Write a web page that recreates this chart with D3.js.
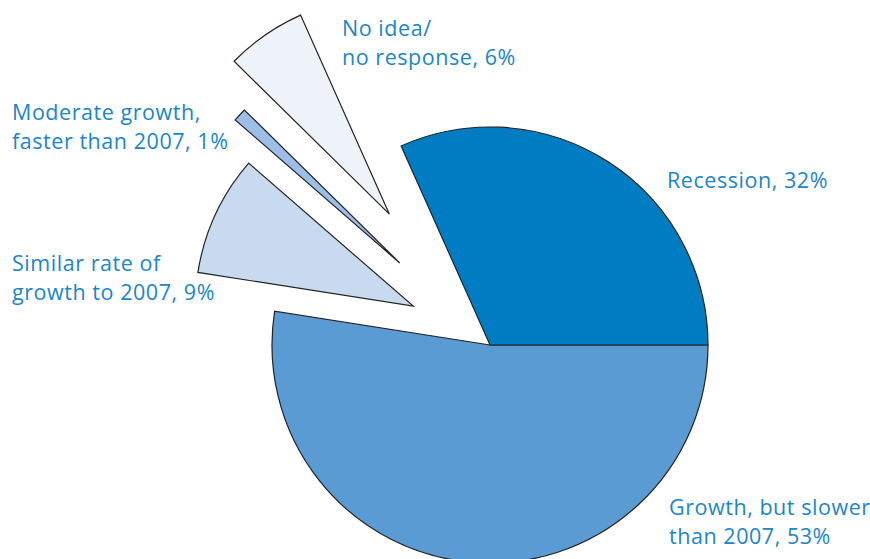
<!DOCTYPE html>
<html>
<head>
<meta charset="utf-8">
<script src="https://cdn.jsdelivr.net/npm/d3@7/dist/d3.min.js"></script>
<style>
  html, body { margin: 0; padding: 0; background: #ffffff; }
  svg { display: block; }
  text { font-family: "Open Sans", "Noto Sans", sans-serif; fill: #1b86c8; }
</style>
</head>
<body>
<svg id="chart" width="870" height="559"></svg>
<script>
// Survey answers: expectations for economic growth
const categories = [
  "Growth, but slower than 2007",
  "Similar rate of growth to 2007",
  "Moderate growth, faster than 2007",
  "No idea/no response",
  "Recession"
];
const shares = [53, 9, 1, 6, 32];
const labelLines = [
  ["Growth, but slower", "than 2007, 53%"],
  ["Similar rate of", "growth to 2007, 9%"],
  ["Moderate growth,", "faster than 2007, 1%"],
  ["No idea/", "no response, 6%"],
  ["Recession, 32%"]
];
const colors = ["#5b9bd4", "#c8daef", "#9dbfe7", "#eef3fa", "#007cc3"];
// how far each wedge is pulled out of the pie, and a small turn of that pull (degrees)
const explode = [0, 86, 122, 165, 0];
const explodeTurn = [0, 1.9, -0.5, -2.8, 0];

const svg = d3.select("#chart");
const cx = 490, cy = 345, radius = 218;

const pie = d3.pie()
  .sort(null)
  .value(d => d)
  .startAngle(Math.PI / 2)
  .endAngle(Math.PI / 2 + 2 * Math.PI);

const arc = d3.arc().innerRadius(0).outerRadius(radius);

const slices = pie(shares);

const g = svg.append("g").attr("transform", `translate(${cx},${cy})`);

g.selectAll("path")
  .data(slices)
  .join("path")
  .attr("d", arc)
  .attr("transform", (d, i) => {
    const mid = (d.startAngle + d.endAngle) / 2 + explodeTurn[i] * Math.PI / 180;
    const dx = Math.sin(mid) * explode[i];
    const dy = -Math.cos(mid) * explode[i];
    return `translate(${dx},${dy})`;
  })
  .attr("fill", (d, i) => colors[i])
  .attr("stroke", "#222")
  .attr("stroke-width", 1.2)
  .attr("stroke-linejoin", "miter");

// label anchor positions (left edge, first baseline)
const labelPos = [
  [669, 515],
  [12, 271],
  [12, 120],
  [342, 36],
  [667, 188]
];
const lineHeight = 28.5;

svg.selectAll("text.label")
  .data(labelLines)
  .join("text")
  .attr("class", "label")
  .attr("x", (d, i) => labelPos[i][0])
  .attr("y", (d, i) => labelPos[i][1])
  .attr("font-size", 21.5)
  .attr("letter-spacing", 0.55)
  .selectAll("tspan")
  .data((d, i) => d.map(t => ({ t, i })))
  .join("tspan")
  .attr("x", d => labelPos[d.i][0])
  .attr("dy", (d, j) => j === 0 ? 0 : lineHeight)
  .text(d => d.t);
</script>
</body>
</html>
